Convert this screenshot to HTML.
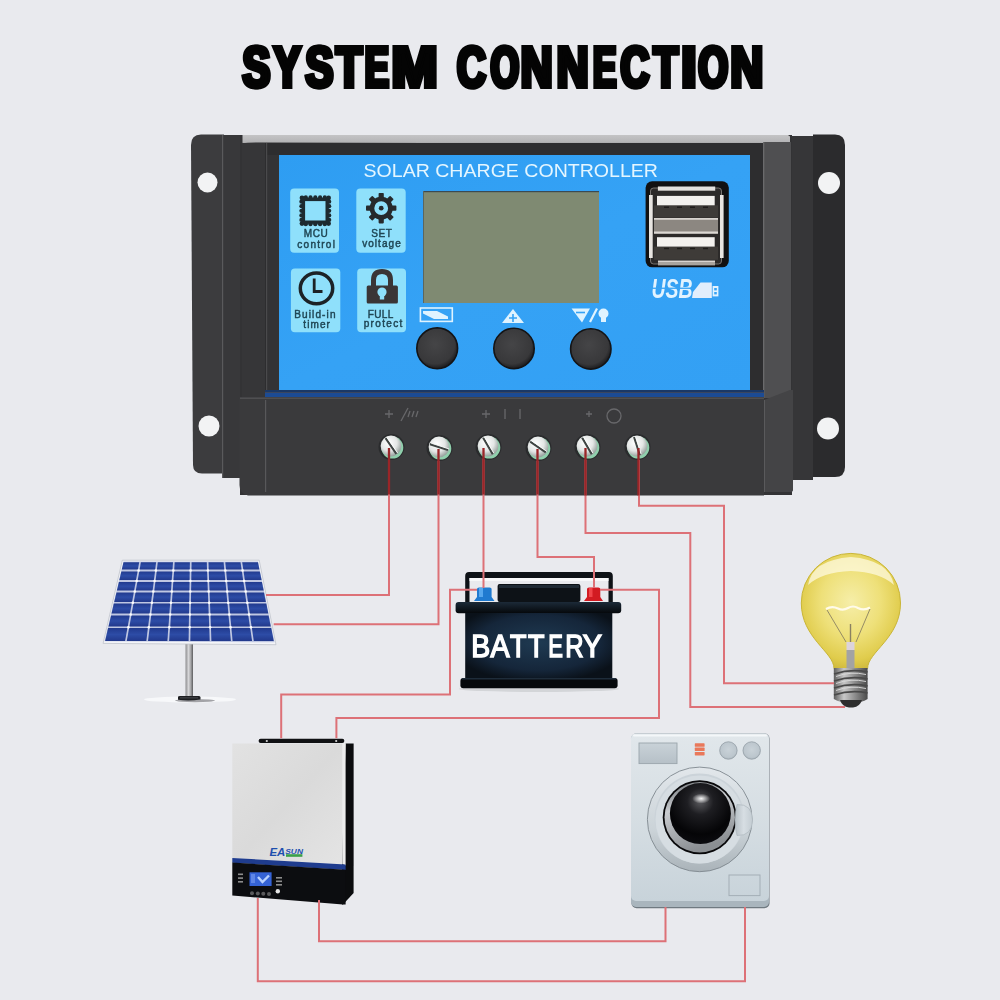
<!DOCTYPE html>
<html><head><meta charset="utf-8"><title>System Connection</title>
<style>
html,body{margin:0;padding:0;background:#e9eaee;}
body{width:1000px;height:1000px;overflow:hidden;font-family:"Liberation Sans",sans-serif;}
svg{display:block;}
</style></head><body>
<svg width="1000" height="1000" viewBox="0 0 1000 1000" font-family="Liberation Sans, sans-serif">
<defs>
  <filter id="nofr" x="0" y="0" width="1000" height="1000" filterUnits="userSpaceOnUse"><feOffset dx="0" dy="0"/></filter>
  <linearGradient id="blueg" x1="0" y1="0" x2="1" y2="1">
    <stop offset="0" stop-color="#2e9df2"/>
    <stop offset="0.5" stop-color="#35a2f5"/>
    <stop offset="1" stop-color="#33a0f4"/>
  </linearGradient>
  <linearGradient id="topg" x1="0" y1="0" x2="0" y2="1">
    <stop offset="0" stop-color="#c4c4c5"/>
    <stop offset="0.8" stop-color="#b4b4b6"/>
    <stop offset="1" stop-color="#8c8c8e"/>
  </linearGradient>
  <radialGradient id="btng" cx="0.45" cy="0.4" r="0.6">
    <stop offset="0" stop-color="#454547"/>
    <stop offset="0.8" stop-color="#38383a"/>
    <stop offset="1" stop-color="#1c1c1e"/>
  </radialGradient>
  <radialGradient id="screwg" cx="0.4" cy="0.35" r="0.65">
    <stop offset="0" stop-color="#ffffff"/>
    <stop offset="0.6" stop-color="#e3e6e5"/>
    <stop offset="1" stop-color="#9aa3a0"/>
  </radialGradient>

  <linearGradient id="cellg" x1="0" y1="0" x2="0" y2="1">
    <stop offset="0" stop-color="#213a8e"/>
    <stop offset="0.5" stop-color="#2d4ca6"/>
    <stop offset="1" stop-color="#22398c"/>
  </linearGradient>
  <linearGradient id="poleg" x1="0" y1="0" x2="1" y2="0">
    <stop offset="0" stop-color="#8c8c8e"/>
    <stop offset="0.4" stop-color="#d6d6d8"/>
    <stop offset="0.7" stop-color="#a6a6a8"/>
    <stop offset="1" stop-color="#5c5c5e"/>
  </linearGradient>
  <radialGradient id="batg" cx="0.5" cy="0.45" r="0.6">
    <stop offset="0" stop-color="#1f3a52"/>
    <stop offset="0.7" stop-color="#15263a"/>
    <stop offset="1" stop-color="#0a1119"/>
  </radialGradient>
  <linearGradient id="lidg" x1="0" y1="0" x2="0" y2="1">
    <stop offset="0" stop-color="#1c2a38"/>
    <stop offset="1" stop-color="#05080b"/>
  </linearGradient>
  <radialGradient id="bulbg" cx="0.5" cy="0.42" r="0.6">
    <stop offset="0" stop-color="#f6eea8"/>
    <stop offset="0.5" stop-color="#eee079"/>
    <stop offset="0.85" stop-color="#e0cc4c"/>
    <stop offset="1" stop-color="#cfb93c"/>
  </radialGradient>
  <linearGradient id="baseg" x1="0" y1="0" x2="1" y2="0">
    <stop offset="0" stop-color="#5e5e5e"/>
    <stop offset="0.3" stop-color="#c8c8c8"/>
    <stop offset="0.55" stop-color="#9a9a9a"/>
    <stop offset="1" stop-color="#4a4a4a"/>
  </linearGradient>
  <linearGradient id="invg" x1="0" y1="0" x2="1" y2="1">
    <stop offset="0" stop-color="#e2e2e2"/>
    <stop offset="0.5" stop-color="#dadada"/>
    <stop offset="1" stop-color="#e4e4e4"/>
  </linearGradient>
  <linearGradient id="washg" x1="0" y1="0" x2="0" y2="1">
    <stop offset="0" stop-color="#e1e7eb"/>
    <stop offset="0.5" stop-color="#d6dee3"/>
    <stop offset="1" stop-color="#c8d3da"/>
  </linearGradient>
  <radialGradient id="glassg" cx="0.5" cy="0.3" r="0.72">
    <stop offset="0" stop-color="#5c5c60"/>
    <stop offset="0.3" stop-color="#1e1e22"/>
    <stop offset="0.75" stop-color="#050507"/>
    <stop offset="1" stop-color="#0c0c10"/>
  </radialGradient>
  <radialGradient id="hlg" cx="0.5" cy="0.5" r="0.5">
    <stop offset="0" stop-color="#ffffff" stop-opacity="0.95"/>
    <stop offset="1" stop-color="#ffffff" stop-opacity="0"/>
  </radialGradient>
  <linearGradient id="metalg" x1="0" y1="0" x2="0.3" y2="1">
    <stop offset="0" stop-color="#6e7276"/>
    <stop offset="0.4" stop-color="#c9ccd0"/>
    <stop offset="1" stop-color="#8b8f93"/>
  </linearGradient>
  <linearGradient id="handleg" x1="0" y1="0" x2="1" y2="0">
    <stop offset="0" stop-color="#b7c0c6"/>
    <stop offset="0.5" stop-color="#d7dee3"/>
    <stop offset="1" stop-color="#c3ccd2"/>
  </linearGradient>
  <linearGradient id="ringg" x1="0" y1="0" x2="0" y2="1">
    <stop offset="0" stop-color="#e2e7eb"/>
    <stop offset="0.6" stop-color="#cbd3d8"/>
    <stop offset="1" stop-color="#aab3b9"/>
  </linearGradient>
  <radialGradient id="knobg" cx="0.5" cy="0.45" r="0.55">
    <stop offset="0" stop-color="#c9d2d8"/>
    <stop offset="0.8" stop-color="#bcc6cd"/>
    <stop offset="1" stop-color="#a9b4bb"/>
  </radialGradient>
  <linearGradient id="dispg" x1="0" y1="0" x2="0" y2="1">
    <stop offset="0" stop-color="#c9d2d8"/>
    <stop offset="1" stop-color="#b6c0c7"/>
  </linearGradient>
</defs>

<!-- background -->
<rect x="0" y="0" width="1000" height="1000" fill="#e9eaee"/>

<!-- title -->
<g filter="url(#nofr)" font-size="58.0" font-weight="bold" fill="#040404" stroke="#040404" stroke-width="4.2" stroke-linejoin="miter">
<g transform="translate(242.61,0) scale(0.7103,1)"><text x="-1.13" y="86.9">S</text><text x="1.13" y="86.9">S</text></g>
<g transform="translate(273.70,0) scale(0.7000,1)"><text x="-1.14" y="86.9">Y</text><text x="1.14" y="86.9">Y</text></g>
<g transform="translate(305.52,0) scale(0.7179,1)"><text x="-1.11" y="86.9">S</text><text x="1.11" y="86.9">S</text></g>
<g transform="translate(335.94,0) scale(0.7368,1)"><text x="-1.09" y="86.9">T</text><text x="1.09" y="86.9">T</text></g>
<g transform="translate(364.86,0) scale(0.6189,1)"><text x="-1.29" y="86.9">E</text><text x="1.29" y="86.9">E</text></g>
<g transform="translate(391.60,0) scale(0.9489,1)"><text x="-0.84" y="86.9">M</text><text x="0.84" y="86.9">M</text></g>
<g transform="translate(457.00,0) scale(0.6884,1)"><text x="-1.16" y="86.9">C</text><text x="1.16" y="86.9">C</text></g>
<g transform="translate(490.60,0) scale(0.6311,1)"><text x="-1.27" y="86.9">O</text><text x="1.27" y="86.9">O</text></g>
<g transform="translate(520.68,0) scale(0.7579,1)"><text x="-1.06" y="86.9">N</text><text x="1.06" y="86.9">N</text></g>
<g transform="translate(556.68,0) scale(0.7579,1)"><text x="-1.06" y="86.9">N</text><text x="1.06" y="86.9">N</text></g>
<g transform="translate(592.99,0) scale(0.6054,1)"><text x="-1.32" y="86.9">E</text><text x="1.32" y="86.9">E</text></g>
<g transform="translate(620.60,0) scale(0.6814,1)"><text x="-1.17" y="86.9">C</text><text x="1.17" y="86.9">C</text></g>
<g transform="translate(653.49,0) scale(0.6947,1)"><text x="-1.15" y="86.9">T</text><text x="1.15" y="86.9">T</text></g>
<g transform="translate(681.33,0) scale(0.9333,1)"><text x="-0.86" y="86.9">I</text><text x="0.86" y="86.9">I</text></g>
<g transform="translate(698.40,0) scale(0.6578,1)"><text x="-1.22" y="86.9">O</text><text x="1.22" y="86.9">O</text></g>
<g transform="translate(730.44,0) scale(0.7789,1)"><text x="-1.03" y="86.9">N</text><text x="1.03" y="86.9">N</text></g>
</g>

<!-- ============ CONTROLLER ============ -->
<g id="controller">
  <!-- left flange -->
  <path d="M201,134.5 H224 V473.5 H202 Q193.2,473.5 193,465 L191,145 Q191,134.5 201,134.5 Z" fill="#3c3c3e"/>
  <circle cx="207.5" cy="182.5" r="10" fill="#f2f3f4"/>
  <circle cx="209" cy="426" r="10.5" fill="#f2f3f4"/>
  <!-- left side strip -->
  <rect x="222" y="135" width="20" height="343" fill="#38383a"/>
  <rect x="222" y="135" width="1.2" height="343" fill="#5a5a5c"/>
  <!-- right flange -->
  <path d="M813,134.5 H835 Q845,134.5 845,145 V467 Q845,477 835,477 H813 Z" fill="#2b2b2d"/>
  <circle cx="829" cy="183" r="11" fill="#f2f3f4"/>
  <circle cx="828" cy="428.5" r="11" fill="#f2f3f4"/>
  <rect x="791" y="136" width="22" height="344" fill="#363638"/>
  <!-- main body -->
  <rect x="240" y="135" width="552" height="360" fill="#333335"/>
  <!-- top surface -->
  <path d="M242.5,135 H788 L790,136.5 V144 L262,142.6 Q248,142.2 242.5,143.5 Z" fill="url(#topg)"/>
  <!-- left inner strip -->
  <rect x="242" y="143" width="24" height="255" fill="#363638"/>
  <!-- bezel -->
  <rect x="265" y="143" width="498" height="255" fill="#2d2d2f"/>
  <rect x="267" y="155" width="12" height="236" fill="#333335"/>
  <rect x="266" y="143" width="1.2" height="250" fill="#4a4a4c"/>
  <!-- right lighter strip -->
  <rect x="763" y="142" width="28" height="256" fill="#4f4f51"/>
  <rect x="763" y="142" width="1.3" height="256" fill="#6a6a6c"/>
  <!-- blue panel -->
  <rect x="279" y="155" width="471" height="235" fill="url(#blueg)"/>
  <!-- navy strip -->
  <rect x="265" y="390" width="499" height="8" fill="#1c4b94"/>
  <rect x="265" y="390" width="499" height="2" fill="#1a3866"/>
  <rect x="265" y="392" width="499" height="1" fill="#3a4660"/>
  <!-- terminal block -->
  <path d="M239.5,397 H764 V495.5 H248 Q239.5,494 239.5,485 Z" fill="#3a3a3c"/>
  <rect x="240" y="397.6" width="524" height="1.2" fill="#555557"/>
  <rect x="265" y="400" width="1.2" height="92" fill="#58585a"/>
  <!-- right face of terminal block -->
  <path d="M764,400 L790,390 H793 V490 Q793,492 790,492 H764 Z" fill="#444446"/>
  <rect x="764" y="400" width="1" height="92" fill="#5a5a5c"/>
</g>

<!-- ============ PANEL CONTENT ============ -->
<g id="panel">
  <text filter="url(#nofr)" x="363.5" y="177.4" font-size="18.7" fill="#e4f6ff" textLength="294.5" lengthAdjust="spacingAndGlyphs">SOLAR CHARGE CONTROLLER</text>
  <!-- icon boxes -->
  <rect x="290.2" y="188.5" width="48.8" height="64.3" rx="4" fill="#8fe0fb"/>
  <rect x="356.3" y="188.5" width="49.4" height="64.3" rx="4" fill="#8fe0fb"/>
  <rect x="290.9" y="268.5" width="49.4" height="63.7" rx="4" fill="#8fe0fb"/>
  <rect x="357.2" y="268.5" width="48.8" height="63.7" rx="4" fill="#8fe0fb"/>
  <!-- MCU chip -->
  <g fill="#1d2a30"><circle cx="305.8" cy="197.4" r="2.1"/><circle cx="305.8" cy="224.2" r="2.1"/><circle cx="301.4" cy="201.7" r="2.1"/><circle cx="329.2" cy="201.7" r="2.1"/><circle cx="310.5" cy="197.4" r="2.1"/><circle cx="310.5" cy="224.2" r="2.1"/><circle cx="301.4" cy="206.2" r="2.1"/><circle cx="329.2" cy="206.2" r="2.1"/><circle cx="315.3" cy="197.4" r="2.1"/><circle cx="315.3" cy="224.2" r="2.1"/><circle cx="301.4" cy="210.8" r="2.1"/><circle cx="329.2" cy="210.8" r="2.1"/><circle cx="320.1" cy="197.4" r="2.1"/><circle cx="320.1" cy="224.2" r="2.1"/><circle cx="301.4" cy="215.4" r="2.1"/><circle cx="329.2" cy="215.4" r="2.1"/><circle cx="324.8" cy="197.4" r="2.1"/><circle cx="324.8" cy="224.2" r="2.1"/><circle cx="301.4" cy="219.9" r="2.1"/><circle cx="329.2" cy="219.9" r="2.1"/><circle cx="302.0" cy="198.0" r="2.4"/><circle cx="328.6" cy="198.0" r="2.4"/><circle cx="302.0" cy="223.6" r="2.4"/><circle cx="328.6" cy="223.6" r="2.4"/></g>
  <rect x="303.4" y="199.4" width="23.8" height="22.8" fill="none" stroke="#1d2a30" stroke-width="3.4"/>
  <!-- gear -->
  <g transform="translate(381.2,208.2)" fill="#262a2d">
    <circle r="9.2" fill="none" stroke="#262a2d" stroke-width="4.6"/>
    <circle r="2.4"/>
    <rect x="-2.6" y="-15.2" width="5.2" height="6" rx="0.8" transform="rotate(0)"/><rect x="-2.6" y="-15.2" width="5.2" height="6" rx="0.8" transform="rotate(45)"/><rect x="-2.6" y="-15.2" width="5.2" height="6" rx="0.8" transform="rotate(90)"/><rect x="-2.6" y="-15.2" width="5.2" height="6" rx="0.8" transform="rotate(135)"/><rect x="-2.6" y="-15.2" width="5.2" height="6" rx="0.8" transform="rotate(180)"/><rect x="-2.6" y="-15.2" width="5.2" height="6" rx="0.8" transform="rotate(225)"/><rect x="-2.6" y="-15.2" width="5.2" height="6" rx="0.8" transform="rotate(270)"/><rect x="-2.6" y="-15.2" width="5.2" height="6" rx="0.8" transform="rotate(315)"/>
  </g>
  <!-- clock -->
  <ellipse cx="316.5" cy="288.3" rx="16.2" ry="15.4" fill="none" stroke="#1c2226" stroke-width="3.5"/>
  <path d="M314.2,278.5 V291.5 H322.5" fill="none" stroke="#1c2226" stroke-width="2.8"/>
  <!-- lock -->
  <path d="M373.5,286 V280 Q373.5,271.5 382,271.5 Q390.5,271.5 390.5,280 V286" fill="none" stroke="#3a3536" stroke-width="5"/>
  <rect x="366.7" y="285.4" width="31.2" height="18.2" rx="1.5" fill="#3a3536"/>
  <circle cx="382" cy="292" r="4.6" fill="#8fe0fb"/>
  <rect x="379.8" y="294" width="4.4" height="5.5" fill="#8fe0fb"/>
  <!-- icon labels -->
  <g filter="url(#nofr)" fill="#1f4654" font-size="10" stroke="#1f4654" stroke-width="0.45">
    <text x="303.8" y="237.3" textLength="24" lengthAdjust="spacing">MCU</text>
    <text x="297.3" y="248" textLength="37.6" lengthAdjust="spacing">control</text>
    <text x="371.3" y="237.3" textLength="20.5" lengthAdjust="spacing">SET</text>
    <text x="362.2" y="246.8" textLength="38.5" lengthAdjust="spacing">voltage</text>
    <text x="294.2" y="317.9" textLength="41.3" lengthAdjust="spacing">Build-in</text>
    <text x="303.3" y="327.6" textLength="26.6" lengthAdjust="spacing">timer</text>
    <text x="367.7" y="318" textLength="25.6" lengthAdjust="spacing">FULL</text>
    <text x="363.7" y="327.3" textLength="38.6" lengthAdjust="spacing">protect</text>
  </g>
  <!-- LCD -->
  <rect x="423" y="191" width="176" height="112" fill="#7f8a72"/>
  <rect x="423" y="191" width="176" height="1.2" fill="#3b4a52"/>
  <rect x="423" y="191" width="1" height="112" fill="#5a6660"/>
  <!-- button symbols -->
  <g fill="#dff3ff">
    <rect x="420.4" y="308" width="31.9" height="13.4" fill="none" stroke="#dff3ff" stroke-width="1.6"/>
    <path d="M423,311 H437 L448,316.5 V319 H434 L423,313.5 Z"/>
    <path d="M513,309 L524,323 H502 Z"/>
    <path d="M571.6,308.5 H590 L582,322.5 Z"/>
    <path d="M590,322 L597,308.5" stroke="#dff3ff" stroke-width="2.2"/>
    <circle cx="603.5" cy="313.5" r="5"/>
    <rect x="601" y="317" width="5" height="5"/>
  </g>
  <path d="M509,318 H517 M513,314 V322" stroke="#35a2f5" stroke-width="1.6"/>
  <path d="M576,312.5 H585" stroke="#35a2f5" stroke-width="1.6"/>
  <!-- buttons -->
  <circle cx="437.2" cy="348.3" r="20.4" fill="url(#btng)" stroke="#141416" stroke-width="1.6"/>
  <circle cx="514" cy="348.5" r="20.2" fill="url(#btng)" stroke="#141416" stroke-width="1.6"/>
  <circle cx="590.8" cy="349" r="20.2" fill="url(#btng)" stroke="#141416" stroke-width="1.6"/>
  <!-- USB -->
  <rect x="645.6" y="181.3" width="83.2" height="86" rx="6.5" fill="#111112"/>
  <rect x="650.5" y="188" width="71" height="76" rx="3" fill="#2c2a29" stroke="#8e8a86" stroke-width="0.8"/>
  <rect x="657.9" y="186.5" width="57.3" height="4.2" fill="#e4e1dd"/>
  <rect x="649" y="195" width="3.7" height="63" fill="#e8e5e1"/>
  <rect x="720" y="195" width="3.6" height="63" fill="#e8e5e1"/>
  <rect x="654" y="205.3" width="64" height="12.2" fill="#3e3b38"/>
  <rect x="657" y="195.9" width="57.7" height="9.4" fill="#f3f1ee"/>
  <g fill="#1c1a19"><rect x="664" y="206.5" width="5" height="1.4"/><rect x="677" y="206.5" width="5" height="1.4"/><rect x="690" y="206.5" width="5" height="1.4"/><rect x="703" y="206.5" width="5" height="1.4"/></g>
  <rect x="654" y="218" width="64" height="15.5" fill="#8c8781"/>
  <rect x="654" y="218" width="64" height="1.8" fill="#d6d2cd"/>
  <rect x="654" y="231.5" width="64" height="2.2" fill="#dcd8d3"/>
  <rect x="654" y="246.6" width="64" height="13.2" fill="#3e3b38"/>
  <rect x="657" y="237.2" width="57.7" height="9.4" fill="#f3f1ee"/>
  <g fill="#1c1a19"><rect x="664" y="247.8" width="5" height="1.4"/><rect x="677" y="247.8" width="5" height="1.4"/><rect x="690" y="247.8" width="5" height="1.4"/><rect x="703" y="247.8" width="5" height="1.4"/></g>
  <rect x="658" y="260.7" width="57" height="4.7" fill="#a9a49e"/>
  <rect x="658" y="260.7" width="57" height="1.2" fill="#dedad5"/>
  <text filter="url(#nofr)" x="651.5" y="298.4" font-size="27.5" font-weight="bold" font-style="italic" fill="#e2f3ff" textLength="41" lengthAdjust="spacingAndGlyphs">USB</text>
  <rect x="650" y="287.6" width="44" height="1.3" fill="#38a3f4"/>
  <path d="M693,292 L700.5,282.4 H711.8 V298 H692 Z" fill="#e2eefc"/>
  <rect x="712.6" y="286" width="5.8" height="10.4" fill="#e2f3ff"/>
  <rect x="714.2" y="288" width="2.6" height="2.4" fill="#38a3f4"/>
  <rect x="714.2" y="292" width="2.6" height="2.4" fill="#38a3f4"/>
</g>


<!-- ============ SOLAR PANEL ============ -->
<g id="solar">
  <ellipse cx="190" cy="699.5" rx="46" ry="3" fill="#f7f8fa"/>
  <ellipse cx="195" cy="700.6" rx="20" ry="1.6" fill="#6a6b70" opacity="0.6"/>
  <rect x="185.5" y="642" width="7.5" height="55" fill="url(#poleg)"/>
  <path d="M178,697 Q178,696 180,696 H199 Q200.5,696 200.5,697.5 V699.5 Q189,701.5 178,699.8 Z" fill="#1e1f22"/>
  <rect x="180" y="697.5" width="18" height="0.8" fill="#55565a"/>
  <polygon points="122.3,560.2 259.2,560.2 276.0,644.7 103.1,643.4000000000001" fill="#f4f5f8" stroke="#b9bdc6" stroke-width="0.7"/>
  <polygon points="123.5,561.6 258.0,561.6 274.6,642.3 104.5,641.2" fill="#bfc7e2"/>
  <g fill="url(#cellg)"><polygon points="123.5,562.3 139.2,562.3 137.9,569.6 121.8,569.6"/><polygon points="140.9,562.3 156.1,562.3 155.2,569.6 139.6,569.6"/><polygon points="157.8,562.3 173.0,562.3 172.5,569.6 156.9,569.6"/><polygon points="174.7,562.3 189.9,562.3 189.8,569.6 174.2,569.6"/><polygon points="191.6,562.3 206.8,562.3 207.0,569.6 191.5,569.6"/><polygon points="208.5,562.3 223.6,562.3 224.3,569.6 208.7,569.6"/><polygon points="225.3,562.3 240.5,562.3 241.6,569.6 226.0,569.6"/><polygon points="242.2,562.3 258.0,562.3 259.4,569.6 243.3,569.6"/><polygon points="121.4,571.4 137.6,571.4 136.0,580.1 119.3,580.1"/><polygon points="139.3,571.4 155.0,571.4 153.9,580.1 137.7,580.1"/><polygon points="156.7,571.4 172.4,571.4 171.7,580.1 155.6,580.1"/><polygon points="174.1,571.4 189.7,571.4 189.6,580.1 173.4,580.1"/><polygon points="191.4,571.4 207.1,571.4 207.4,580.1 191.3,580.1"/><polygon points="208.8,571.4 224.5,571.4 225.3,580.1 209.1,580.1"/><polygon points="226.2,571.4 241.9,571.4 243.1,580.1 227.0,580.1"/><polygon points="243.6,571.4 259.8,571.4 261.6,580.1 244.8,580.1"/><polygon points="118.9,581.9 135.7,581.9 134.1,590.6 116.9,590.6"/><polygon points="137.4,581.9 153.7,581.9 152.6,590.6 135.8,590.6"/><polygon points="155.4,581.9 171.6,581.9 171.0,590.6 154.3,590.6"/><polygon points="173.3,581.9 189.6,581.9 189.4,590.6 172.7,590.6"/><polygon points="191.3,581.9 207.5,581.9 207.8,590.6 191.1,590.6"/><polygon points="209.2,581.9 225.5,581.9 226.3,590.6 209.5,590.6"/><polygon points="227.2,581.9 243.4,581.9 244.7,590.6 228.0,590.6"/><polygon points="245.1,581.9 261.9,581.9 263.7,590.6 246.4,590.6"/><polygon points="116.5,592.4 133.8,592.4 132.1,601.9 114.2,601.9"/><polygon points="135.5,592.4 152.4,592.4 151.1,601.9 133.8,601.9"/><polygon points="154.1,592.4 170.9,592.4 170.2,601.9 152.8,601.9"/><polygon points="172.6,592.4 189.4,592.4 189.2,601.9 171.9,601.9"/><polygon points="191.1,592.4 207.9,592.4 208.3,601.9 190.9,601.9"/><polygon points="209.6,592.4 226.4,592.4 227.3,601.9 210.0,601.9"/><polygon points="228.1,592.4 244.9,592.4 246.3,601.9 229.0,601.9"/><polygon points="246.6,592.4 264.0,592.4 265.9,601.9 248.0,601.9"/><polygon points="113.8,603.6 131.8,603.6 130.0,613.6 111.5,613.6"/><polygon points="133.5,603.6 150.9,603.6 149.7,613.6 131.7,613.6"/><polygon points="152.6,603.6 170.1,603.6 169.4,613.6 151.4,613.6"/><polygon points="171.8,603.6 189.2,603.6 189.0,613.6 171.1,613.6"/><polygon points="190.9,603.6 208.3,603.6 208.7,613.6 190.7,613.6"/><polygon points="210.0,603.6 227.5,603.6 228.4,613.6 210.4,613.6"/><polygon points="229.2,603.6 246.6,603.6 248.1,613.6 230.1,613.6"/><polygon points="248.3,603.6 266.3,603.6 268.3,613.6 249.8,613.6"/><polygon points="111.1,615.4 129.7,615.4 127.7,626.4 108.5,626.4"/><polygon points="131.4,615.4 149.5,615.4 148.1,626.4 129.4,626.4"/><polygon points="151.2,615.4 169.2,615.4 168.5,626.4 149.8,626.4"/><polygon points="170.9,615.4 189.0,615.4 188.8,626.4 170.2,626.4"/><polygon points="190.7,615.4 208.8,615.4 209.2,626.4 190.5,626.4"/><polygon points="210.5,615.4 228.5,615.4 229.6,626.4 210.9,626.4"/><polygon points="230.2,615.4 248.3,615.4 249.9,626.4 231.3,626.4"/><polygon points="250.0,615.4 268.6,615.4 270.8,626.4 251.6,626.4"/><polygon points="108.1,628.1 127.4,628.1 125.1,640.9 105.1,640.9"/><polygon points="129.1,628.1 147.9,628.1 146.3,640.9 126.8,640.9"/><polygon points="149.6,628.1 168.3,628.1 167.4,640.9 148.0,640.9"/><polygon points="170.0,628.1 188.8,628.1 188.6,640.9 169.1,640.9"/><polygon points="190.5,628.1 209.3,628.1 209.7,640.9 190.3,640.9"/><polygon points="211.0,628.1 229.7,628.1 230.9,640.9 211.4,640.9"/><polygon points="231.4,628.1 250.2,628.1 252.1,640.9 232.6,640.9"/><polygon points="251.9,628.1 271.2,628.1 273.8,640.9 253.8,640.9"/></g>
  <g fill="#ffffff"><circle cx="138.6" cy="570.5" r="1.3"/><circle cx="155.9" cy="570.5" r="1.3"/><circle cx="173.3" cy="570.5" r="1.3"/><circle cx="190.6" cy="570.5" r="1.3"/><circle cx="207.9" cy="570.5" r="1.3"/><circle cx="225.3" cy="570.5" r="1.3"/><circle cx="242.6" cy="570.5" r="1.3"/><circle cx="136.7" cy="581.0" r="1.3"/><circle cx="154.6" cy="581.0" r="1.3"/><circle cx="172.5" cy="581.0" r="1.3"/><circle cx="190.4" cy="581.0" r="1.3"/><circle cx="208.3" cy="581.0" r="1.3"/><circle cx="226.2" cy="581.0" r="1.3"/><circle cx="244.1" cy="581.0" r="1.3"/><circle cx="134.8" cy="591.5" r="1.3"/><circle cx="153.3" cy="591.5" r="1.3"/><circle cx="171.8" cy="591.5" r="1.3"/><circle cx="190.3" cy="591.5" r="1.3"/><circle cx="208.7" cy="591.5" r="1.3"/><circle cx="227.2" cy="591.5" r="1.3"/><circle cx="245.7" cy="591.5" r="1.3"/><circle cx="132.8" cy="602.8" r="1.3"/><circle cx="151.9" cy="602.8" r="1.3"/><circle cx="171.0" cy="602.8" r="1.3"/><circle cx="190.1" cy="602.8" r="1.3"/><circle cx="209.2" cy="602.8" r="1.3"/><circle cx="228.2" cy="602.8" r="1.3"/><circle cx="247.3" cy="602.8" r="1.3"/><circle cx="130.7" cy="614.5" r="1.3"/><circle cx="150.4" cy="614.5" r="1.3"/><circle cx="170.2" cy="614.5" r="1.3"/><circle cx="189.9" cy="614.5" r="1.3"/><circle cx="209.6" cy="614.5" r="1.3"/><circle cx="229.3" cy="614.5" r="1.3"/><circle cx="249.0" cy="614.5" r="1.3"/><circle cx="128.4" cy="627.2" r="1.3"/><circle cx="148.8" cy="627.2" r="1.3"/><circle cx="169.3" cy="627.2" r="1.3"/><circle cx="189.7" cy="627.2" r="1.3"/><circle cx="210.1" cy="627.2" r="1.3"/><circle cx="230.5" cy="627.2" r="1.3"/><circle cx="250.9" cy="627.2" r="1.3"/></g>
</g>

<!-- ============ BATTERY ============ -->
<g id="battery">
  <ellipse cx="539" cy="689" rx="80" ry="3" fill="#d3d5d8"/>
  <!-- handle -->
  <path d="M465.2,602 V576 Q465.2,572 469,572 H609 Q612.8,572 612.8,576 V602 H608.5 V578 H469.5 V602 Z" fill="#0e1216"/>
  <rect x="469.5" y="578" width="139" height="3" fill="#f7f8f9"/>
  <!-- center block -->
  <rect x="497.6" y="584" width="82.8" height="18" rx="2" fill="#0d1217"/>
  <rect x="499" y="585" width="80" height="3" fill="#1f2a34"/>
  <!-- terminals -->
  <path d="M474,601 L477,597 V589 Q477,587.5 479,587.5 H489.6 Q491.6,587.5 491.6,589 V597 L494.5,601 Z" fill="#1f7ad0"/>
  <rect x="479" y="588" width="4" height="9" fill="#56a7ee"/>
  <path d="M584,601 L587,597 V589 Q587,587.5 589,587.5 H598.3 Q600.3,587.5 600.3,589 V597 L603,601 Z" fill="#d21b22"/>
  <rect x="589" y="588" width="3.5" height="9" fill="#f0454a"/>
  <!-- lid -->
  <rect x="455.6" y="602" width="165.6" height="11.2" rx="3" fill="url(#lidg)"/>
  <!-- body -->
  <rect x="465.2" y="613" width="147.1" height="66" fill="url(#batg)"/>
  <!-- base -->
  <rect x="460.4" y="678" width="157.2" height="10.3" rx="3" fill="#06090c"/>
  <rect x="462" y="678" width="154" height="1.5" fill="#1e2c3a"/>
  <g filter="url(#nofr)" font-size="31" fill="#ffffff" stroke="#ffffff" stroke-width="1.5">
<text transform="translate(471.37,0) scale(0.9167,1)" y="656.7">B</text>
<text transform="translate(490.62,0) scale(0.9227,1)" y="656.7">A</text>
<text transform="translate(510.00,0) scale(0.8684,1)" y="656.7">T</text>
<text transform="translate(528.00,0) scale(0.8684,1)" y="656.7">T</text>
<text transform="translate(548.28,0) scale(0.7111,1)" y="656.7">E</text>
<text transform="translate(565.36,0) scale(0.8200,1)" y="656.7">R</text>
<text transform="translate(582.70,0) scale(0.9286,1)" y="656.7">Y</text>
</g>
</g>

<!-- ============ BULB ============ -->
<g id="bulb">
  <path d="M834,668.5 C834,652 801.3,638 801.3,603 A49.6,49.6 0 1 1 900.5,603 C900.5,638 867.6,652 867.6,668.5 Z" fill="url(#bulbg)" stroke="#c9b537" stroke-width="1"/>
  <path d="M808,585 Q812,560 850.9,557 Q889,560 894,585 Q880,572 850.9,571 Q822,572 808,585 Z" fill="#fdf9e0" opacity="0.75"/>
  <path d="M826,609 Q832,605.5 838,608.5 Q843,611 848,608 Q853,605 858,608 Q864,611 870,607.5" fill="none" stroke="#fffbea" stroke-width="2.2"/>
  <path d="M827,610 L846,642 M870,609 L856,642" fill="none" stroke="#8a8162" stroke-width="0.9"/>
  <path d="M850.5,624 V642" fill="none" stroke="#8a8162" stroke-width="1.4"/>
  <rect x="846.5" y="642" width="8" height="8" fill="#dcd3dc"/>
  <rect x="846.5" y="650" width="8" height="19" fill="#a3a3a3"/>
  <!-- screw base -->
  <path d="M833.8,668 H867.6 V699 Q862,703 851,703 Q840,703 833.8,699 Z" fill="url(#baseg)"/>
  <g stroke="#4a4a4a" stroke-width="1.6" fill="none">
    <path d="M834,674 Q851,668.5 867.6,672"/>
    <path d="M834,681 Q851,675.5 867.6,679"/>
    <path d="M834,688 Q851,682.5 867.6,686"/>
    <path d="M834,695 Q851,689.5 867.6,693"/>
  </g>
  <g stroke="#dcdcdc" stroke-width="0.9" fill="none">
    <path d="M836,676.5 Q851,671 866,674.5"/>
    <path d="M836,683.5 Q851,678 866,681.5"/>
    <path d="M836,690.5 Q851,685 866,688.5"/>
  </g>
  <path d="M840,700 H862 Q860,706.5 853,707.5 H849 Q842,706.5 840,700 Z" fill="#2e2e2e"/>
</g>
<!-- ============ INVERTER ============ -->
<g id="inverter">
  <rect x="258.6" y="738.7" width="85.7" height="4.4" rx="2" fill="#101113"/>
  <circle cx="266.8" cy="741" r="1.1" fill="#d8d8d8"/>
  <circle cx="336.2" cy="741" r="1.1" fill="#d8d8d8"/>
  <!-- side -->
  <path d="M345.6,743.6 H353.6 V893 L343,904.5 H342 V866 Z" fill="#0b0c0e"/>
  <!-- front -->
  <path d="M232.3,743.6 H342.5 V864.3 L232.3,858 Z" fill="url(#invg)"/>
  <path d="M342.5,743.6 H345.6 V865.5 L342.5,864.3 Z" fill="#ececec"/>
  <!-- blue stripe -->
  <path d="M232.3,858 L345.6,864.4 V870 L232.3,862.8 Z" fill="#1f3c8e"/>
  <!-- bottom black -->
  <path d="M232.3,862.6 L345.6,869.8 V904.5 H343 L232.3,895.5 Z" fill="#0c0d10"/>
  <!-- LCD -->
  <rect x="249.5" y="872.3" width="22.1" height="13.7" fill="#3563d6"/>
  <path d="M258,877 L262.5,882 L269,875.5" fill="none" stroke="#b9d2ff" stroke-width="2.4"/>
  <rect x="251" y="874" width="4" height="9" fill="#5f86e6"/>
  <g fill="#8d8d8d">
    <rect x="238" y="873.5" width="5" height="1.6"/><rect x="238" y="877.3" width="5" height="1.6"/><rect x="238" y="881" width="5" height="1.6"/>
    <rect x="276" y="877" width="6" height="1.6"/><rect x="276" y="880.5" width="6" height="1.6"/><rect x="276" y="884" width="6" height="1.6"/>
  </g>
  <g fill="#5a5a5c">
    <circle cx="252" cy="893.3" r="2"/><circle cx="257.8" cy="893.5" r="2"/><circle cx="263.3" cy="893.7" r="2"/><circle cx="269" cy="893.9" r="2"/>
  </g>
  <circle cx="277.8" cy="891.2" r="2.2" fill="#e4e4e4"/>
  <!-- logo -->
  <text x="269.4" y="856" font-size="11.5" font-weight="bold" font-style="italic" fill="#1d4fae" textLength="15.8" lengthAdjust="spacingAndGlyphs">EA</text>
  <text x="285.3" y="853.6" font-size="6.6" font-weight="bold" font-style="italic" fill="#1d4fae" textLength="17.6" lengthAdjust="spacingAndGlyphs">SUN</text>
  <rect x="286" y="854.2" width="16.4" height="2.6" fill="#3aa048"/>
</g>
<!-- ============ WASHER ============ -->
<g id="washer">
  <rect x="631.5" y="733.6" width="138" height="174.6" rx="5" fill="#6f7980"/>
  <rect x="631" y="733.6" width="138" height="173.4" rx="5" fill="#a9b5bd"/>
  <rect x="631" y="733.6" width="138" height="167.4" rx="5" fill="url(#washg)"/>
  <rect x="633" y="734.5" width="134" height="2" rx="1" fill="#f4f7f9"/>
  <!-- display -->
  <rect x="639" y="743" width="38" height="20.6" fill="url(#dispg)" stroke="#9aa5ac" stroke-width="0.9"/>
  <!-- orange bars -->
  <g fill="#e9785a">
    <rect x="694.8" y="743.3" width="9.8" height="3.5" rx="0.6"/>
    <rect x="694.8" y="747.6" width="9.8" height="3.5" rx="0.6"/>
    <rect x="694.8" y="751.9" width="9.8" height="3.5" rx="0.6"/>
  </g>
  <!-- knobs -->
  <circle cx="728.4" cy="750.5" r="8.7" fill="url(#knobg)" stroke="#98a3aa" stroke-width="0.9"/>
  <circle cx="751.7" cy="750.5" r="8.7" fill="url(#knobg)" stroke="#98a3aa" stroke-width="0.9"/>
  <!-- door -->
  <circle cx="699.7" cy="819.4" r="52.3" fill="url(#ringg)" stroke="#7f888e" stroke-width="0.9"/>
  <circle cx="699.5" cy="818.5" r="45" fill="#cbd3d9"/>
  <circle cx="699.5" cy="819.5" r="44" fill="#d6dde2"/>
  <circle cx="699.7" cy="817.3" r="37" fill="#08080a"/>
  <circle cx="699.7" cy="817.3" r="35.2" fill="url(#metalg)"/>
  <circle cx="700.4" cy="813.6" r="30.5" fill="url(#glassg)"/>
  <ellipse cx="701.2" cy="798.6" rx="9" ry="5" fill="url(#hlg)"/>
  <path d="M737,804.5 Q752.5,804 752.5,820 Q752.5,836 737,835.5 Q733,820 737,804.5 Z" fill="url(#handleg)" stroke="#a7b1b8" stroke-width="0.6"/>
  <!-- bottom panel -->
  <rect x="729" y="875" width="31" height="20.6" fill="none" stroke="#a3aeb6" stroke-width="1"/>
</g>

<!-- ============ WIRES ============ -->
<g id="wires" fill="none" stroke="#dd7177" stroke-width="2" stroke-linejoin="miter">
  <path d="M389,455 V595 H266"/>
  <path d="M438.5,455 V624.3 H273.7"/>
  <path d="M483.5,455 V588"/>
  <path d="M537.5,455 V557 H594 V588"/>
  <path d="M585.5,455 V533 H690.3 V707 H845"/>
  <path d="M639,455 V505.8 H724 V683.3 H834"/>
  <path d="M477,589.7 H450 V694.4 H281.2 V738.3"/>
  <path d="M600,589.7 H659 V718 H336.4 V738.3"/>
  <path d="M257.8,898 V981.2 H745 V907"/>
  <path d="M319,900 V941.3 H665.5 V907"/>
</g>
<!-- ============ TERMINALS ============ -->
<g id="terminals">
  <!-- embossed symbols -->
  <g stroke="#6d6d70" stroke-width="1.3" fill="none" opacity="0.9">
    <path d="M385,414 H393 M389,410 V418"/>
    <path d="M401,421 L408,408"/>
    <path d="M410,411 L408,417 M414,411 L412,417 M418,411 L416,417"/>
    <path d="M482,414 H490 M486,410 V418"/>
    <path d="M505,409 V419 M520,409 V419"/>
    <path d="M586,414 H592 M589,411 V417"/>
    <circle cx="614" cy="416" r="7"/>
  </g>
  <circle cx="391.5" cy="447" r="13" fill="#2a2b2d"/>
  <circle cx="392.3" cy="447.6" r="11" fill="#8fcfac"/>
  <circle cx="391" cy="446" r="10.4" fill="url(#screwg)"/>
  <path d="M385.6,438.2 L396.4,453.8" stroke="#3e4442" stroke-width="2.2"/>
  <path d="M386.8,437.3 L397.6,452.9" stroke="#fbfdfc" stroke-width="0.9"/>
  <circle cx="439.5" cy="448" r="13" fill="#2a2b2d"/>
  <circle cx="440.3" cy="448.6" r="11" fill="#8fcfac"/>
  <circle cx="439" cy="447" r="10.4" fill="url(#screwg)"/>
  <path d="M430.0,444.1 L448.0,449.9" stroke="#3e4442" stroke-width="2.2"/>
  <path d="M431.2,443.2 L449.2,449.0" stroke="#fbfdfc" stroke-width="0.9"/>
  <circle cx="488.5" cy="447" r="13" fill="#2a2b2d"/>
  <circle cx="489.3" cy="447.6" r="11" fill="#8fcfac"/>
  <circle cx="488" cy="446" r="10.4" fill="url(#screwg)"/>
  <path d="M483.2,437.8 L492.8,454.2" stroke="#3e4442" stroke-width="2.2"/>
  <path d="M484.4,436.9 L493.9,453.3" stroke="#fbfdfc" stroke-width="0.9"/>
  <circle cx="538.5" cy="448" r="13" fill="#2a2b2d"/>
  <circle cx="539.3" cy="448.6" r="11" fill="#8fcfac"/>
  <circle cx="538" cy="447" r="10.4" fill="url(#screwg)"/>
  <path d="M530.2,441.6 L545.8,452.4" stroke="#3e4442" stroke-width="2.2"/>
  <path d="M531.4,440.7 L547.0,451.5" stroke="#fbfdfc" stroke-width="0.9"/>
  <circle cx="587.5" cy="447" r="13" fill="#2a2b2d"/>
  <circle cx="588.3" cy="447.6" r="11" fill="#8fcfac"/>
  <circle cx="587" cy="446" r="10.4" fill="url(#screwg)"/>
  <path d="M582.2,437.8 L591.8,454.2" stroke="#3e4442" stroke-width="2.2"/>
  <path d="M583.5,436.9 L593.0,453.3" stroke="#fbfdfc" stroke-width="0.9"/>
  <circle cx="637.5" cy="447" r="13" fill="#2a2b2d"/>
  <circle cx="638.3" cy="447.6" r="11" fill="#8fcfac"/>
  <circle cx="637" cy="446" r="10.4" fill="url(#screwg)"/>
  <path d="M634.1,437.0 L639.9,455.0" stroke="#3e4442" stroke-width="2.2"/>
  <path d="M635.3,436.1 L641.1,454.1" stroke="#fbfdfc" stroke-width="0.9"/>
</g>
<g stroke="#9a2528" stroke-width="2.3">
  <path d="M389,448 V494.5 M438.5,449 V494.5 M483.5,448 V494.5 M537.5,449 V494.5 M585.5,448 V495.5 M638.5,448 V495.5"/>
</g>

</svg>
</body></html>
